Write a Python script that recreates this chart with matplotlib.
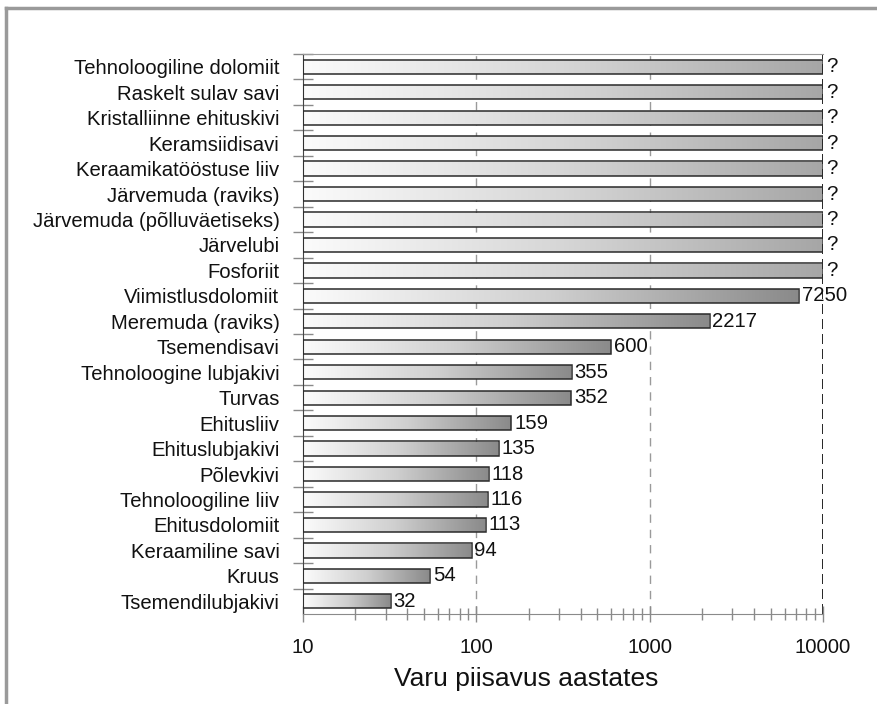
import matplotlib
matplotlib.use('Agg')
import matplotlib.pyplot as plt
import numpy as np
from matplotlib.colors import LinearSegmentedColormap
from matplotlib.lines import Line2D
from matplotlib.ticker import FixedLocator, LogLocator, NullFormatter

plt.rcParams['font.family'] = ['Liberation Sans', 'DejaVu Sans']

# top to bottom; None = unknown ("?")
categories = [
    'Tehnoloogiline dolomiit', 'Raskelt sulav savi', 'Kristalliinne ehituskivi',
    'Keramsiidisavi', 'Keraamikatööstuse liiv', 'Järvemuda (raviks)',
    'Järvemuda (põlluväetiseks)', 'Järvelubi', 'Fosforiit', 'Viimistlusdolomiit',
    'Meremuda (raviks)', 'Tsemendisavi', 'Tehnoloogine lubjakivi', 'Turvas',
    'Ehitusliiv', 'Ehituslubjakivi', 'Põlevkivi', 'Tehnoloogiline liiv',
    'Ehitusdolomiit', 'Keraamiline savi', 'Kruus', 'Tsemendilubjakivi',
]
years = [None, None, None, None, None, None, None, None, None, 7250,
         2217, 600, 355, 352, 159, 135, 118, 116, 113, 94, 54, 32]
x_ticks = [10, 100, 1000, 10000]

x_min, x_max = x_ticks[0], x_ticks[-1]
grad = LinearSegmentedColormap.from_list('bar', ['#fbfbfb', '#cfcfcf', '#8a8a8a'])
grad_unknown = LinearSegmentedColormap.from_list('unk', ['#fbfbfb', '#d6d6d6', '#a6a6a6'])
ramp = np.linspace(0, 1, 256).reshape(1, -1)

fig = plt.figure(figsize=(8.77, 7.04), dpi=100)
ax = fig.add_axes([0.3455, 0.1278, 0.5929, 0.7955])
ax.set_xscale('log')
ax.set_xlim(x_min, x_max)
ax.set_ylim(len(categories) - 0.5, -0.5)

# gradient drawn in axes-fraction x so it is linear on screen
to_axes = ax.transData + ax.transAxes.inverted()
bar_h = 0.56
for i, v in enumerate(years):
    end = x_max if v is None else v
    bar = ax.barh(i, end - x_min, left=x_min, height=bar_h, facecolor='none',
                  edgecolor='#2a2a2a', linewidth=1.1, zorder=3)[0]
    frac = to_axes.transform((end, i))[0]
    img = ax.imshow(ramp, cmap=grad_unknown if v is None else grad, aspect='auto',
                    interpolation='bilinear',
                    extent=(0, frac, i + bar_h / 2, i - bar_h / 2), zorder=2,
                    transform=ax.get_yaxis_transform())
    img.set_clip_path(bar)
    label = '?' if v is None else str(v)
    ax.annotate(label, (end, i), xytext=(2, 0), textcoords='offset points',
                va='center', ha='left', fontsize=14.6, color='#111111', zorder=4)

ax.set_xlim(x_min, x_max)
ax.set_ylim(len(categories) - 0.5, -0.5)

# y ticks: labels at bars, tick marks between bars
ax.set_yticks(range(len(categories)))
ax.set_yticklabels(categories, fontsize=14.6, color='#111111')
ax.yaxis.set_minor_locator(FixedLocator(np.arange(-0.5, len(categories) - 0.5, 1.0)))
ax.tick_params(axis='y', which='major', length=0, pad=17)
ax.tick_params(axis='y', which='minor', direction='inout', length=14.4,
               color='#8a8a8a', width=1)

ax.set_xticks(x_ticks)
ax.set_xticklabels([str(t) for t in x_ticks], fontsize=14.6, color='#111111')
ax.xaxis.set_minor_locator(LogLocator(base=10, subs=np.arange(2, 10)))
ax.xaxis.set_minor_formatter(NullFormatter())
ax.tick_params(axis='x', which='major', direction='inout', length=11,
               color='#8a8a8a', width=1, pad=12)
ax.tick_params(axis='x', which='minor', direction='inout', length=8.6,
               color='#8a8a8a', width=1)

for t in x_ticks[1:-1]:
    ax.axvline(t, color='#9a9a9a', linestyle=(0, (6, 5)), linewidth=1, zorder=1)
ax.axvline(x_max, color='black', linestyle=(0, (6, 3)), linewidth=1.2, zorder=1)

ax.spines['right'].set_visible(False)
ax.spines['top'].set_color('#9a9a9a')
ax.spines['bottom'].set_color('#8a8a8a')
ax.spines['left'].set_color('#444444')

ax.set_xlabel('Varu piisavus aastates', fontsize=19, color='#111111', labelpad=2)
ax.xaxis.set_label_coords(0.43, -0.095)

# outer grey frame (top and left edges)
fig.add_artist(Line2D([0.007, 1.0], [0.988, 0.988], color='#9a9a9a', linewidth=2.5,
                      transform=fig.transFigure))
fig.add_artist(Line2D([0.007, 0.007], [0.0, 0.988], color='#9a9a9a', linewidth=2.5,
                      transform=fig.transFigure))

fig.savefig('out.png', dpi=100)
